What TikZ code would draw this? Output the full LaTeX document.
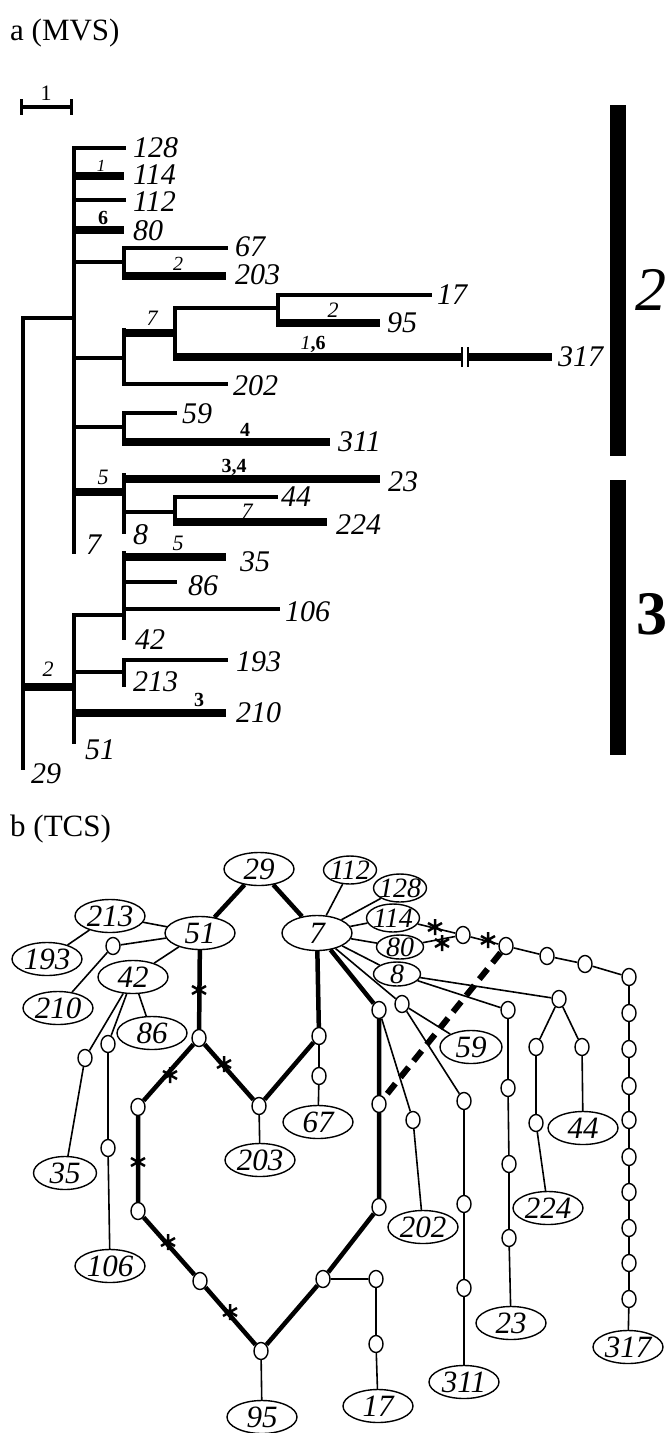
\documentclass[tikz,border=0pt]{standalone}
\usepackage{fontspec}
\setmainfont{Liberation Serif}
\usetikzlibrary{shapes.geometric}
\newcommand\fsz[1]{\fontsize{#1}{#1}\selectfont}
\begin{document}
\begin{tikzpicture}[x=1pt,y=-1pt,
  tl/.style={line width=3.5, line cap=rect},
  tk/.style={line width=8},
  tax/.style={anchor=west, inner sep=0, font=\fsz{30}\itshape},
  supi/.style={inner sep=0, font=\fsz{22}\itshape},
  supb/.style={inner sep=0, font=\fsz{20}\bfseries},
  lab/.style={ellipse, draw, line width=1.4, fill=white, minimum width=70, minimum height=33, inner ysep=0, inner xsep=-4, font=\fsz{31}\itshape},
  labs/.style={lab, minimum width=53, minimum height=28, inner xsep=-8, inner ysep=-1, font=\fsz{28}\itshape},
  labxs/.style={lab, minimum width=47, minimum height=24, inner xsep=-6, inner ysep=-2.5, font=\fsz{28}\itshape},
  hv/.style={ellipse, draw, line width=1.4, fill=white, minimum width=14, minimum height=17, inner sep=0},
  ln/.style={line width=1.6},
  tkn/.style={line width=4.5},
  astr/.pic={\draw[line width=2.5] (0,-8)--(0,8) (-7,-4)--(7,4) (-7,4)--(7,-4);}
]
\useasboundingbox (0,0) rectangle (671,1433);

% ---------------- panel a ----------------
\node[anchor=base west, inner sep=0, font=\fsz{31}] (ta) at (10,40) {a (MVS)};
% scale bar
\draw[line width=4] (21,107) -- (71,107);
\draw[line width=3] (21,99) -- (21,115) (71,99) -- (71,115);
\node[inner sep=0, font=\fsz{22}] (sb) at (46,93) {1};

% root
\draw[tl] (23,318) -- (23,768);
\draw[tl] (23,318) -- (74,318);
\draw[tk] (21.25,687) -- (74,687);
% upper trunk
\draw[tl] (74,148) -- (74,552);
\draw[tl] (74,148) -- (124,148);
\draw[tk] (72.25,176) -- (124,176);
\draw[tl] (74,200) -- (124,200);
\draw[tk] (72.25,230) -- (124,230);
\draw[tl] (74,262) -- (124,262);
\draw[tl] (74,358) -- (124,358);
\draw[tl] (74,427) -- (124,427);
\draw[tk] (72.25,492) -- (124,492);
% clade 67/203
\draw[tl] (124,248) -- (124,278.25);
\draw[tl] (124,248) -- (226,248);
\draw[tk] (122.25,276) -- (226,276);
% clade 17/95/317/202
\draw[tl] (124,330) -- (124,384);
\draw[tk] (122.25,333) -- (175,333);
\draw[tl] (124,384) -- (226,384);
\draw[tl] (175,308) -- (175,359.25);
\draw[tl] (175,308) -- (278,308);
\draw[tl] (278,295) -- (278,325.25);
\draw[tl] (278,295) -- (430,295);
\draw[tk] (276.25,323) -- (380,323);
\draw[tk] (173.25,357) -- (461,357);
\draw[line width=2.5] (462,347) -- (462,367) (468,347) -- (468,367);
\draw[tk] (469,357) -- (552,357);
% clade 59/311
\draw[tl] (124,413) -- (124,444.25);
\draw[tl] (124,413) -- (175,413);
\draw[tk] (122.25,442) -- (330,442);
% clade 23/44/224
\draw[tl] (124,475) -- (124,532);
\draw[tk] (122.25,479) -- (380,479);
\draw[tl] (124,512) -- (175,512);
\draw[tl] (175,497) -- (175,524.25);
\draw[tl] (175,497) -- (276,497);
\draw[tk] (173.25,522) -- (327,522);
% lower trunk
\draw[tl] (74,615) -- (74,742);
\draw[tl] (74,615) -- (124,615);
\draw[tl] (124,553) -- (124,638);
\draw[tk] (122.25,557) -- (226,557);
\draw[tl] (124,582) -- (175,582);
\draw[tl] (124,609) -- (278,609);
\draw[tl] (74,672) -- (124,672);
\draw[tl] (124,660) -- (124,685);
\draw[tl] (124,660) -- (226,660);
\draw[tk] (72.25,713) -- (226,713);

% taxon labels
\node[tax] (a128) at (133,148) {128};
\node[tax] (a114) at (133,175) {114};
\node[tax] (a112) at (133,202) {112};
\node[tax] (a80) at (133,231) {80};
\node[tax] (a67) at (235,247) {67};
\node[tax] (a203) at (235,275) {203};
\node[tax] (a17) at (437,295) {17};
\node[tax] (a95) at (387,323) {95};
\node[tax] (a317) at (558,357) {317};
\node[tax] (a202) at (233,386) {202};
\node[tax] (a59) at (182,414) {59};
\node[tax] (a311) at (338,442) {311};
\node[tax] (a23) at (388,482) {23};
\node[tax] (a44) at (281,497) {44};
\node[tax] (a224) at (336,525) {224};
\node[tax] (a35) at (240,562) {35};
\node[tax] (a86) at (188,586) {86};
\node[tax] (a106) at (285,612) {106};
\node[tax] (a193) at (236,662) {193};
\node[tax] (a210) at (236,713) {210};
\node[tax] (a7) at (86,545) {7};
\node[tax] (a8) at (133,535) {8};
\node[tax] (a42) at (135,640) {42};
\node[tax] (a213) at (133,682) {213};
\node[tax] (a51) at (85,750) {51};
\node[tax] (a29) at (31,774) {29};

% support labels
\node[supi, font=\fsz{17}\itshape] (s1a) at (101,166) {1};
\node[supb] (s2a) at (103,218) {6};
\node[supi, font=\fsz{20}\itshape] (s3a) at (178,264) {2};
\node[supi] (s4a) at (152,318) {7};
\node[supi] (s5a) at (333,310) {2};
\node[inner sep=0, font=\fsz{20}] (s6a) at (313,344) {\textit{1}\textbf{,6}};
\node[supb] (s7a) at (245,430) {4};
\node[supb] (s8a) at (234,467) {3,4};
\node[supi] (s9a) at (103,477) {5};
\node[supi] (s10a) at (247,511) {7};
\node[supi] (s11a) at (178,543) {5};
\node[supi] (s12a) at (48,669) {2};
\node[supb] (s13a) at (199,700) {3};

% group bars
\fill (610,105) rectangle (626,456);
\fill (610,480) rectangle (626,755);
\node[inner sep=0, font=\fsz{62}\itshape] (g2) at (651,290) {2};
\node[inner sep=0, font=\fsz{62}\bfseries] (g3) at (652,614) {3};

% ---------------- panel b ----------------
\node[anchor=base west, inner sep=0, font=\fsz{31}] (tb) at (10,836) {b (TCS)};

\node[lab] (n29) at (259,869) {29};
\node[lab] (n213) at (110,916) {213};
\node[lab] (n51) at (200,933) {51};
\node[lab, minimum height=35] (n7) at (317,933) {7};
\node[lab] (n193) at (47,959) {193};
\node[hv] (c1) at (113,946) {};
\node[lab] (n42) at (133,977) {42};
\node[lab] (n210) at (58,1008) {210};
\node[lab] (n86) at (152,1033) {86};
\node[hv] (a1) at (199,1038) {};
\node[hv] (c35) at (85,1058) {};
\node[hv] (c106a) at (108,1044) {};
\node[hv] (c106b) at (108,1148) {};
\node[lab, minimum width=63] (n35) at (65,1173) {35};
\node[lab] (n106) at (110,1266) {106};
\node[hv] (b1) at (138,1107) {};
\node[hv] (b2) at (138,1211) {};
\node[hv] (b3) at (200,1281) {};
\node[hv] (b4) at (261,1351) {};
\node[lab] (n95) at (262,1417) {95};
\node[hv] (r1) at (259,1106) {};
\node[lab] (n203) at (260,1160) {203};
\node[hv] (s1) at (319,1036) {};
\node[hv] (s2) at (319,1076) {};
\node[lab] (n67) at (318,1122) {67};
\node[hv] (t1) at (379,1010) {};
\node[hv] (t2) at (379,1104) {};
\node[hv] (t3) at (379,1207) {};
\node[hv] (t4) at (323,1279) {};
\node[hv] (u1) at (376,1279) {};
\node[hv] (u2) at (376,1344) {};
\node[lab] (n17) at (378,1406) {17};
\node[hv] (v1) at (413,1120) {};
\node[lab] (n202) at (423,1227) {202};
\node[hv] (w1) at (402,1004) {};
\node[lab, minimum width=62] (n59) at (471,1047) {59};
\node[hv] (w2) at (464,1101) {};
\node[hv] (w3) at (464,1204) {};
\node[hv] (w4) at (464,1288) {};
\node[lab] (n311) at (464,1382) {311};
\node[labs] (n112) at (350,870) {112};
\node[labs] (n128) at (400,888) {128};
\node[labs] (n114) at (393,918) {114};
\node[labxs] (n80) at (400,947) {80};
\node[labxs] (n8) at (397,974) {8};
\node[hv] (g) at (463,935) {};
\node[hv] (h) at (506,946) {};
\node[hv] (i) at (547,956) {};
\node[hv] (j) at (585,964) {};
\node[hv] (k0) at (629,977) {};
\node[hv] (k1) at (629,1013) {};
\node[hv] (k2) at (629,1049) {};
\node[hv] (k3) at (629,1086) {};
\node[hv] (k4) at (629,1120) {};
\node[hv] (k5) at (629,1157) {};
\node[hv] (k6) at (629,1192) {};
\node[hv] (k7) at (629,1228) {};
\node[hv] (k8) at (629,1263) {};
\node[hv] (k9) at (629,1299) {};
\node[lab] (n317) at (628,1347) {317};
\node[hv] (x1) at (508,1010) {};
\node[hv] (x2) at (508,1088) {};
\node[hv] (x3) at (509,1164) {};
\node[hv] (x4) at (509,1238) {};
\node[lab] (n23) at (511,1323) {23};
\node[hv] (y0) at (559,999) {};
\node[hv] (y1) at (536,1047) {};
\node[hv] (y2) at (536,1123) {};
\node[lab] (n224) at (548,1208) {224};
\node[hv] (y3) at (582,1047) {};
\node[lab] (n44) at (583,1128) {44};

% thin edges
\draw[ln] (n51) -- (n213) (n213) -- (n193) (n51) -- (c1) (c1) -- (n210)
  (n51) -- (n42) (n42) -- (n86) (n42) -- (c35) (c35) -- (n35)
  (n42) -- (c106a) (c106a) -- (c106b) (c106b) -- (n106)
  (b4) -- (n95) (r1) -- (n203) (s1) -- (s2) (s2) -- (n67)
  (t4) -- (u1) (u1) -- (u2) (u2) -- (n17) (t1) -- (v1) (v1) -- (n202)
  (n7) -- (w1) (w1) -- (n59) (w1) -- (w2) (w2) -- (w3) (w3) -- (w4) (w4) -- (n311)
  (n7) -- (n112) (n7) -- (n128) (n7) -- (n114) (n7) -- (n80) (n7) -- (n8)
  (n114) -- (g) (n80) -- (g) (g) -- (h) (h) -- (i) (i) -- (j) (j) -- (k0)
  (k0) -- (k1) (k1) -- (k2) (k2) -- (k3) (k3) -- (k4) (k4) -- (k5) (k5) -- (k6)
  (k6) -- (k7) (k7) -- (k8) (k8) -- (k9) (k9) -- (n317)
  (n8) -- (x1) (x1) -- (x2) (x2) -- (x3) (x3) -- (x4) (x4) -- (n23)
  (n8) -- (y0) (y0) -- (y1) (y1) -- (y2) (y2) -- (n224) (y0) -- (y3) (y3) -- (n44);
% thick edges
\draw[tkn] (n29) -- (n51) (n29) -- (n7) (n51) -- (a1) (a1) -- (b1) (a1) -- (r1)
  (b1) -- (b2) (b2) -- (b3) (b3) -- (b4) (b4) -- (t4) (t4) -- (t3) (t3) -- (t2)
  (t2) -- (t1) (t1) -- (n7) (n7) -- (s1) (s1) -- (r1);
% dashed
\draw[line width=6, dash pattern=on 13 off 8] (h) -- (t2);
% mutation stars
\pic at (199,990) {astr};
\pic at (170,1075) {astr};
\pic at (224,1064) {astr};
\pic at (138,1162) {astr};
\pic at (168,1242) {astr};
\pic at (230,1312) {astr};
\pic at (435,927) {astr};
\pic at (442,943) {astr};
\pic at (488,940) {astr};
\end{tikzpicture}
\end{document}
